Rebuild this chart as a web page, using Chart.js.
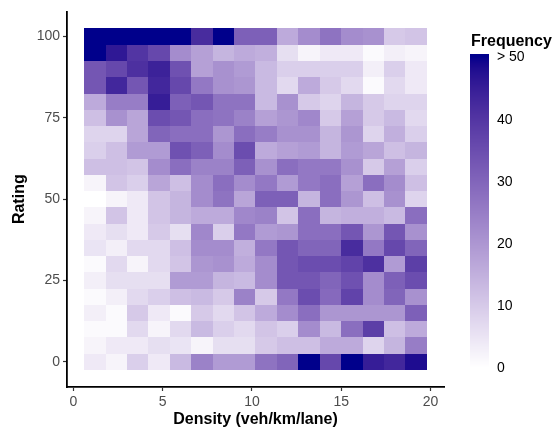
<!DOCTYPE html>
<html>
<head>
<meta charset="utf-8">
<title>Rating vs density</title>
<script src="https://cdn.jsdelivr.net/npm/chart.js@4.4.1/dist/chart.umd.min.js"></script>
<style>
  html, body { margin: 0; padding: 0; background: #fff; }
  #wrap { width: 558px; height: 430px; }
</style>
</head>
<body>
<div id="wrap"><canvas id="chart" width="558" height="430"></canvas></div>
<script>
(function() {

// density bin centres (veh/km/lane); each bin is 1.2 wide
const densities = [1.2, 2.4, 3.6, 4.8, 6.0, 7.2, 8.4, 9.6, 10.8, 12.0, 13.2, 14.4, 15.6, 16.8, 18.0, 19.2];
const densityBin = 1.2;

// rating bin centres, top row first; each bin is 5 high
const ratings = [100, 95, 90, 85, 80, 75, 70, 65, 60, 55, 50, 45, 40, 35, 30, 25, 20, 15, 10, 5, 0];
const ratingBin = 5;

// frequency per cell, one row per rating above, one column per density
const counts = [
    [55, 55, 55, 55, 55, 42, 55, 31, 31, 16, 22, 27, 22, 21, 10, 11],
    [55, 46, 40, 36, 22, 18, 14, 16, 15,  6,  2,  4,  4,  1,  3,  2],
    [33, 36, 41, 44, 34, 18, 21, 19, 13,  9,  9,  9,  9,  3,  9,  4],
    [33, 43, 33, 43, 36, 26, 21, 20, 13,  7, 16, 10,  7,  1,  7,  4],
    [16, 25, 25, 45, 31, 33, 27, 27, 13, 21, 10,  8, 14, 10,  8,  8],
    [12, 21, 17, 35, 33, 28, 27, 24, 18, 20, 23, 10, 18, 10, 13,  7],
    [ 8,  8, 17, 30, 28, 28, 20, 28, 25, 21, 21, 14, 20,  8, 15,  9],
    [ 9, 12, 19, 19, 34, 31, 22, 35, 16, 18, 19, 14, 19, 17, 12, 14],
    [12, 12, 11, 22, 28, 24, 24, 31, 21, 28, 26, 26, 21, 10, 18,  9],
    [ 2, 11,  9, 17, 12, 22, 28, 22, 26, 19, 26, 28, 18, 28, 22, 12],
    [ 0,  2,  4, 11, 14, 22, 27, 17, 31, 31, 14, 28, 20, 12, 21,  8],
    [ 2, 11,  4, 11, 14, 16, 16, 23, 24, 11, 28, 14, 15, 15, 13, 28],
    [ 4,  6,  4, 10,  6, 23,  9, 26, 19, 20, 28, 28, 33, 20, 33, 21],
    [ 5,  3,  7,  7, 12, 22, 22, 15, 26, 33, 30, 30, 42, 26, 36, 30],
    [ 1,  7,  2,  7, 11, 20, 21, 16, 22, 33, 35, 35, 37, 41, 19, 38],
    [ 3,  6,  6,  6, 19, 19, 14, 13, 22, 33, 33, 30, 34, 22, 31, 35],
    [ 1,  3,  7,  9, 12, 13, 10, 24, 10, 26, 35, 29, 37, 22, 30, 21],
    [ 3,  1, 10,  4,  1, 10,  7, 11, 16, 22, 28, 20, 20, 20, 20, 31],
    [ 1,  1,  7,  2,  7, 13,  9,  7, 11,  9, 22, 13, 28, 38, 12, 16],
    [ 2,  4,  4,  6,  5,  2,  6,  6, 10, 12, 12, 16, 16,  8, 14, 25],
    [ 4,  2,  9,  4, 13, 24, 19, 19, 27, 30, 55, 36, 55, 45, 43, 48]
];

const xTicks = [0, 5, 10, 15, 20];
const yTicks = [0, 25, 50, 75, 100];
const legendTicks = [0, 10, 20, 30, 40, 50];
const fillLimit = 50;   // counts above this share the darkest colour

const FONT = "'Liberation Sans', Arial, Helvetica, sans-serif";

// ---- colour scale: white -> darkblue, interpolated in CIELAB ----
function toLab(hex) {
    const c = [1, 3, 5].map(i => parseInt(hex.substr(i, 2), 16) / 255)
        .map(u => u <= 0.04045 ? u / 12.92 : Math.pow((u + 0.055) / 1.055, 2.4));
    const X = (0.4124564 * c[0] + 0.3575761 * c[1] + 0.1804375 * c[2]) / 0.95047,
          Y =  0.2126729 * c[0] + 0.7151522 * c[1] + 0.0721750 * c[2],
          Z = (0.0193339 * c[0] + 0.1191920 * c[1] + 0.9503041 * c[2]) / 1.08883;
    const f = t => t > 216 / 24389 ? Math.cbrt(t) : (24389 / 27 * t + 16) / 116;
    return [116 * f(Y) - 16, 500 * (f(X) - f(Y)), 200 * (f(Y) - f(Z))];
}

function fromLab([L, a, b]) {
    const fy = (L + 16) / 116, fx = fy + a / 500, fz = fy - b / 200;
    const inv = f => f * f * f > 216 / 24389 ? f * f * f : (116 * f - 16) / (24389 / 27);
    const X = 0.95047 * inv(fx), Y = inv(fy), Z = 1.08883 * inv(fz);
    const lin = [
         3.2404542 * X - 1.5371385 * Y - 0.4985314 * Z,
        -0.9692660 * X + 1.8760108 * Y + 0.0415560 * Z,
         0.0556434 * X - 0.2040259 * Y + 1.0572252 * Z
    ];
    const rgb = lin.map(u => {
        const s = u <= 0.0031308 ? 12.92 * u : 1.055 * Math.pow(u, 1 / 2.4) - 0.055;
        return Math.round(255 * Math.min(1, Math.max(0, s)));
    });
    return 'rgb(' + rgb.join(',') + ')';
}

const lowLab = toLab('#ffffff'),
      highLab = toLab('#00008b');

function fillColor(v) {
    const t = Math.min(1, Math.max(0, v / fillLimit));
    return fromLab(lowLab.map((l, i) => l + (highLab[i] - l) * t));
}

// ---- cells ----
const cells = [];
ratings.forEach((r, i) => {
    densities.forEach((d, j) => {
        cells.push({x: d, y: r, v: counts[i][j]});
    });
});

// bin edges, trimmed so neighbouring cells land on the same pixel
const edge = v => Math.round(v * 1e6) / 1e6;

const heatmapCells = {
    id: 'heatmapCells',
    beforeDatasetsDraw(chart) {
        const {ctx, scales: {x, y}} = chart;
        ctx.save();
        chart.data.datasets[0].data.forEach(p => {
            const x0 = Math.round(x.getPixelForValue(edge(p.x - densityBin / 2))),
                  x1 = Math.round(x.getPixelForValue(edge(p.x + densityBin / 2))),
                  y0 = Math.round(y.getPixelForValue(edge(p.y + ratingBin / 2))),
                  y1 = Math.round(y.getPixelForValue(edge(p.y - ratingBin / 2)));
            ctx.fillStyle = fillColor(p.v);
            ctx.fillRect(x0, y0, x1 - x0, y1 - y0);
        });
        ctx.restore();
    }
};

// colour bar legend on the right
const colourBar = {
    id: 'colourBar',
    afterDraw(chart) {
        const ctx = chart.ctx;
        const left = 470, width = 19, top = 54, bottom = 368;
        const zeroY = 367.5, step = 6.22;      // pixels per unit of frequency
        ctx.save();
        for (let py = top; py < bottom; py++) {
            ctx.fillStyle = fillColor((zeroY - py - 0.5) / step);
            ctx.fillRect(left, py, width, 1);
        }
        ctx.fillStyle = '#000';
        ctx.font = 'bold 16px ' + FONT;
        ctx.textAlign = 'left';
        ctx.textBaseline = 'alphabetic';
        ctx.fillText('Frequency', 471, 46);
        ctx.font = '14px ' + FONT;
        ctx.textBaseline = 'middle';
        legendTicks.forEach(v => {
            ctx.fillText(v === fillLimit ? '> ' + v : String(v), 497, zeroY - v * step + 1);
        });
        ctx.restore();
    }
};

const tickFont = {family: FONT, size: 14};
const titleFont = {family: FONT, size: 16, weight: 'bold'};

const config = {
    type: 'scatter',
    data: {
        datasets: [{
            data: cells,
            pointRadius: 0,
            pointHoverRadius: 0
        }]
    },
    options: {
        responsive: false,
        animation: false,
        events: [],
        layout: {padding: {top: 10, right: 114, left: 0, bottom: 0}},
        plugins: {
            legend: {display: false},
            tooltip: {enabled: false}
        },
        scales: {
            x: {
                type: 'linear',
                min: -0.36,
                max: 20.76,
                afterBuildTicks: s => { s.ticks = xTicks.map(v => ({value: v})); },
                afterFit: s => { s.height = 43; },
                grid: {drawOnChartArea: false, tickLength: 4, tickColor: '#333', tickWidth: 1.2},
                border: {display: true, color: '#000', width: 1.8},
                ticks: {color: '#4d4d4d', font: tickFont, padding: 3, maxRotation: 0},
                title: {display: true, text: 'Density (veh/km/lane)', color: '#000', font: titleFont, padding: {top: 0, bottom: 1}}
            },
            y: {
                type: 'linear',
                min: -7.75,
                max: 107.75,
                afterBuildTicks: s => { s.ticks = yTicks.map(v => ({value: v})); },
                afterFit: s => { s.width = 67; },
                grid: {drawOnChartArea: false, tickLength: 4, tickColor: '#333', tickWidth: 1.2},
                border: {display: true, color: '#000', width: 1.8},
                ticks: {color: '#4d4d4d', font: tickFont, padding: 3},
                title: {display: true, text: 'Rating', color: '#000', font: titleFont, padding: {top: 10, bottom: 0}}
            }
        }
    },
    plugins: [heatmapCells, colourBar]
};

new Chart(document.getElementById('chart').getContext('2d'), config);

})();
</script>
</body>
</html>
